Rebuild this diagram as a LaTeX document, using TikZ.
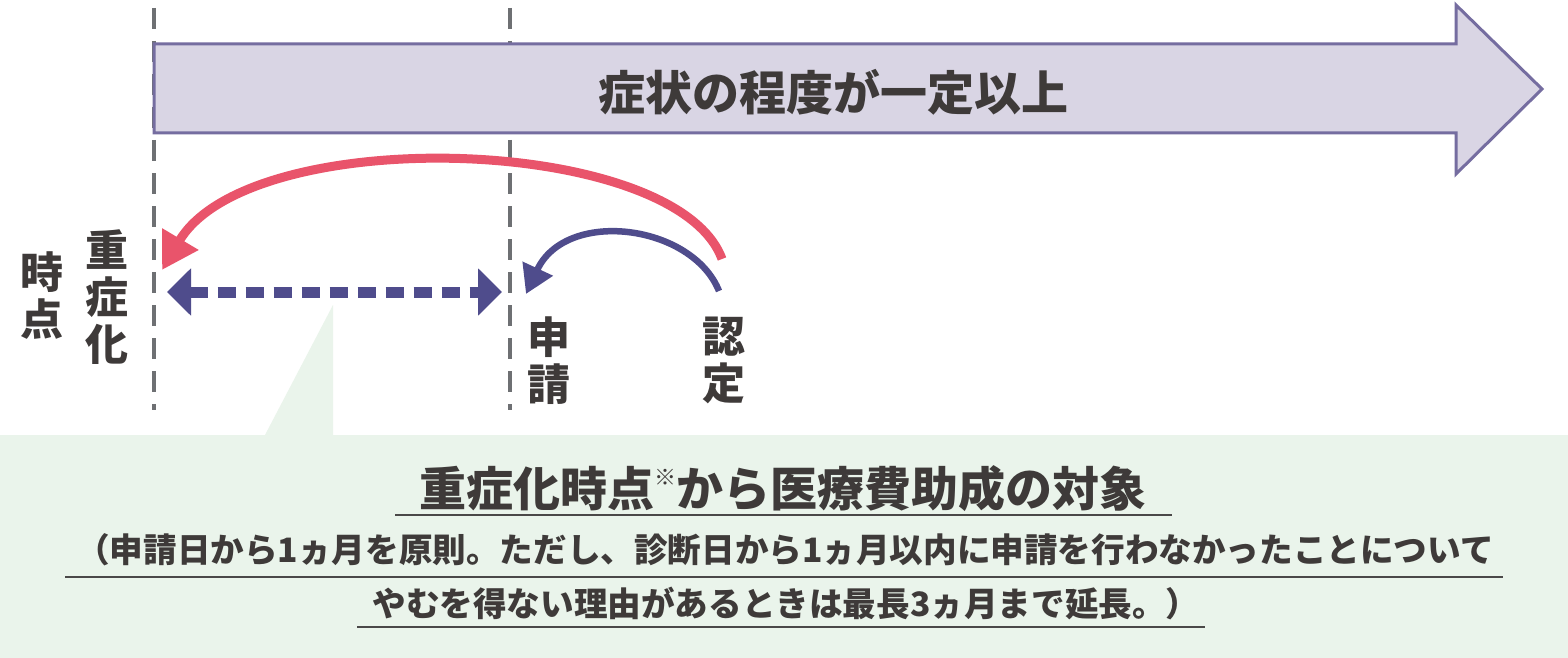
\documentclass[tikz,border=0pt]{standalone}
\usepackage{fontspec}
\setmainfont{Noto Sans CJK JP}
\usetikzlibrary{arrows.meta}
\definecolor{txt}{HTML}{3E3A39}
\definecolor{redc}{HTML}{E9546B}
\definecolor{bluec}{HTML}{4F4C8C}
\definecolor{grayd}{HTML}{6E7073}
\definecolor{arrfill}{HTML}{D9D5E4}
\definecolor{arrline}{HTML}{756DA0}
\definecolor{panel}{HTML}{EAF4EB}
\definecolor{uline}{HTML}{4A4848}
\tikzset{
  vdash/.style={draw=grayd, line width=4.5pt, dash pattern=on 21pt off 12pt},
  bigarrow/.style={fill=arrfill, draw=arrline, line width=3pt, line join=miter},
  redarc/.style={draw=redc, line width=9pt, -{Triangle[length=36pt,width=40pt]}},
  bluearc/.style={draw=bluec, line width=6.5pt, -{Triangle[length=28pt,width=32pt]}},
  dbl/.style={draw=bluec, line width=11pt, dash pattern=on 18pt off 10pt,
    {Triangle[length=24pt,width=46pt]}-{Triangle[length=24pt,width=46pt]}},
  lbl/.style={text=txt, font=\bfseries\fontsize{43}{47}\selectfont, align=center, inner sep=0pt},
  note/.style={text=txt, font=\bfseries\fontsize{33.6}{36}\selectfont, inner sep=0pt},
  ul/.style={draw=uline, line width=2pt},
}
\begin{document}
\begin{tikzpicture}[x=1pt,y=-1pt]
\useasboundingbox (0,0) rectangle (1568,658);
\fill[white] (0,0) rectangle (1568,658);
% bottom panel and callout
\fill[panel] (0,435) rectangle (1568,658);
\fill[panel] (265,435) -- (333,305) -- (333,435) -- cycle;
% dashed verticals
\coordinate (v1t) at (154,8);
\coordinate (v1b) at (154,410);
\coordinate (v2t) at (510,8);
\coordinate (v2b) at (510,410);
\draw[vdash] (v1t) -- (v1b);
\draw[vdash] (v2t) -- (v2b);
% big arrow
\draw[bigarrow] (154,44) -- (1456,44) -- (1456,5) -- (1542,89) -- (1456,174) -- (1456,133) -- (154,133) -- cycle;
\node[lbl, font=\bfseries\fontsize{47}{49}\selectfont] (sym) at (833,92) {症状の程度が一定以上};
% arcs
\coordinate (rs) at (722,259);
\coordinate (re) at (162,270);
\draw[redarc] (rs) .. controls (676,134) and (250,122) .. (re);
\coordinate (bs) at (719,291);
\coordinate (be) at (526,294);
\draw[bluearc] (bs) .. controls (692,224) and (566,208) .. (be);
% double arrow
\coordinate (la) at (167,292);
\coordinate (ra) at (502,292);
\draw[dbl] (la) -- (ra);
% vertical labels
\node[lbl] (jyu) at (107,297) {重\\症\\化};
\node[lbl] (ji) at (42,296) {時\\点};
\node[lbl] (shin) at (549,361) {申\\請};
\node[lbl] (nin) at (724,360) {認\\定};
% bottom texts
\node[text=txt, font=\bfseries\fontsize{47}{50}\selectfont, inner sep=0pt] (title) at (783,489)
  {重症化時点\raisebox{0.45em}{\fontsize{22}{22}\selectfont ※}から医療費助成の対象};
\coordinate (u1a) at (395,515); \coordinate (u1b) at (1172,515);
\draw[ul] (u1a) -- (u1b);
\node[note] (l2) at (785,550)
  {（申請日から1ヵ月を原則。ただし、診断日から1ヵ月以内に申請を行わなかったことについて};
\coordinate (u2a) at (65,577); \coordinate (u2b) at (1503,577);
\draw[ul] (u2a) -- (u2b);
\node[note] (l3) at (786,603)
  {やむを得ない理由があるときは最長3ヵ月まで延長。）};
\coordinate (u3a) at (357,627); \coordinate (u3b) at (1205,627);
\draw[ul] (u3a) -- (u3b);
\end{tikzpicture}
\end{document}
